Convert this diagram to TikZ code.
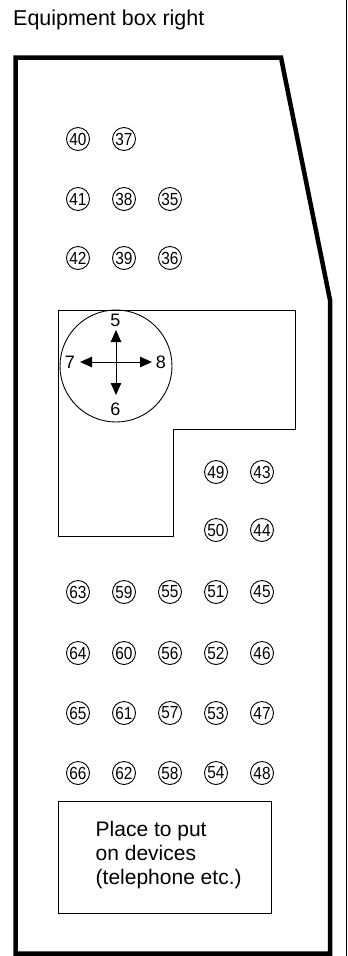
\documentclass[tikz,border=0pt]{standalone}
\usepackage{fontspec}
\setmainfont{Liberation Sans}
\usetikzlibrary{positioning, arrows.meta}

\begin{document}
\begin{tikzpicture}[
      x=1pt, y=-1pt,
      term/.style={circle, draw, line width=0.9pt, minimum size=23pt, inner sep=0pt, font=\fontsize{17.5}{18}\selectfont},
      dirlabel/.style={inner sep=0pt, font=\fontsize{18}{18}\selectfont},
      dirarr/.style={-{Triangle[length=12pt, width=10.5pt]}, line width=0.9pt},
      wall/.style={line width=4.5pt, line join=miter},
      panel/.style={line width=0.9pt}
  ]
  \useasboundingbox (0,0) rectangle (348,956);
  \draw[line width=1pt] (346.5,0) -- (346.5,956);

  \node[anchor=base west, inner sep=0pt, font=\fontsize{21.5}{24}\selectfont] (title) at (13,25) {Equipment box right};

  % housing outline
  \draw[wall] (15.5,953.5) -- (15.5,57.5) -- (281,57.5) -- (330,300) -- (330,953.5) -- cycle;

  % L-shaped panel with the direction dial
  \draw[panel] (58,310) -- (295,310) -- (295,429) -- (173,429) -- (173,536) -- (58,536) -- cycle;
  \node[circle, draw, panel, minimum size=112pt, inner sep=0pt] (dial) at (116,366) {};
  \coordinate (mid) at (116,362);
  \coordinate (up) at (116,330);
  \coordinate (down) at (116,395);
  \coordinate (left) at (80,362);
  \coordinate (right) at (152,362);
  \node[dirlabel] (d5) at (115.5,320) {5};
  \node[dirlabel] (d6) at (115.5,409) {6};
  \node[dirlabel] (d7) at (70,362) {7};
  \node[dirlabel] (d8) at (161,362) {8};
  \draw[dirarr] (mid) -- (up);
  \draw[dirarr] (mid) -- (down);
  \draw[dirarr] (mid) -- (left);
  \draw[dirarr] (mid) -- (right);

  % terminals 35--42
  \foreach \c/\x in {0/170, 1/124, 2/78}
    \foreach \r/\y in {1/139, 2/199, 3/258} {
      \pgfmathtruncatemacro{\num}{34+3*\c+\r-1}
      \ifnum\num>34
        \node[term] (t\num) at (\x,\y) {\makebox[0pt]{\scalebox{0.88}[1]{\num}}};
      \fi
    }

  % terminals 43--54
  \foreach \c/\x in {0/262, 1/216}
    \foreach \r/\y in {1/472, 2/530, 3/592, 4/653, 5/713, 6/773} {
      \pgfmathtruncatemacro{\num}{43+6*\c+\r-1}
      \node[term] (t\num) at (\x,\y) {\makebox[0pt]{\scalebox{0.88}[1]{\num}}};
    }

  % terminals 55--66
  \foreach \c/\x in {0/170, 1/124, 2/78}
    \foreach \r/\y in {0/592, 1/653, 2/713, 3/773} {
      \pgfmathtruncatemacro{\num}{55+4*\c+\r}
      \node[term] (t\num) at (\x,\y) {\makebox[0pt]{\scalebox{0.88}[1]{\num}}};
    }

  \node[draw, panel, minimum width=213pt, minimum height=112pt, inner sep=0pt] (devices) at (164.5,857) {};
  \node[anchor=west, align=left, inner sep=0pt, font=\fontsize{21}{24}\selectfont] (devtext) at (95.5,855) {Place to put\\on devices\\(telephone etc.)};
\end{tikzpicture}
\end{document}
